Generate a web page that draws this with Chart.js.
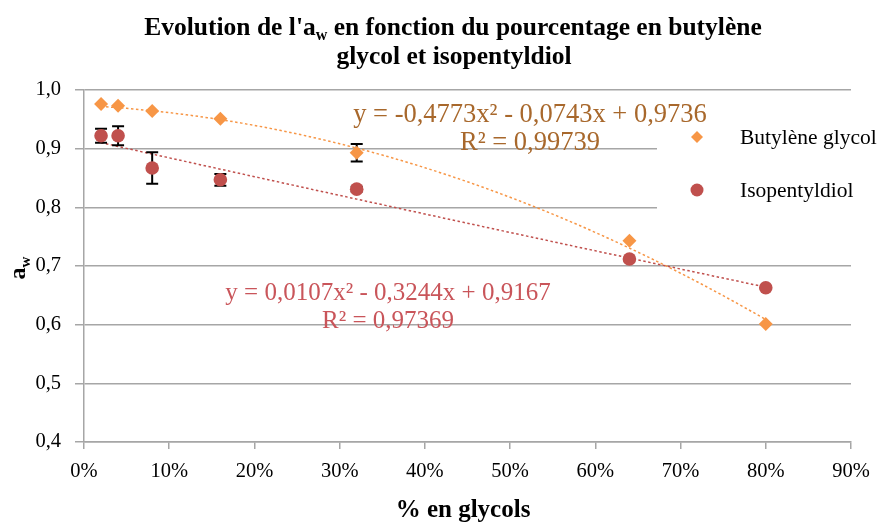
<!DOCTYPE html>
<html>
<head>
<meta charset="utf-8">
<script src="https://cdn.jsdelivr.net/npm/chart.js@4"></script>
<style>
  html, body { margin: 0; padding: 0; background: #fff; }
  #wrap { width: 880px; height: 525px; }
</style>
</head>
<body>
<div id="wrap"><canvas id="awChart" width="880" height="525"></canvas></div>
<script>
(function () {
  'use strict';

  const pctGlycol = [2, 4, 8, 16, 32, 64, 80];
  const awButylene = [0.976, 0.973, 0.964, 0.951, 0.893, 0.743, 0.601];
  const awIsopentyl = [0.922, 0.922, 0.867, 0.847, 0.831, 0.712, 0.663];
  const errButylene = [0, 0, 0, 0, 0.015, 0, 0];
  const errIsopentyl = [0.012, 0.016, 0.027, 0.010, 0.004, 0, 0];

  // trendline coefficients shown on the chart (x as a fraction): a x^2 + b x + c
  const trendButylene = [-0.4773, -0.0743, 0.9736];
  const trendIsopentyl = [0.0107, -0.3244, 0.9167];

  const seriesNames = ['Butylène glycol', 'Isopentyldiol'];
  const eqButylene = ['y = -0,4773x² - 0,0743x + 0,9736', 'R² = 0,99739'];
  const eqIsopentyl = ['y = 0,0107x² - 0,3244x + 0,9167', 'R² = 0,97369'];

  const ORANGE = '#f79646';
  const RED = '#c0504d';
  const SERIF = '"Liberation Serif", "DejaVu Serif", serif';

  function toPoints(xs, ys) {
    return xs.map((x, i) => ({ x: x, y: ys[i] }));
  }

  // draws base + subscript + rest, centred on cx
  function subText(ctx, parts, cx, y, size, subSize, subDrop) {
    ctx.font = 'bold ' + size + 'px ' + SERIF;
    const w1 = ctx.measureText(parts[0]).width;
    const w3 = ctx.measureText(parts[2]).width;
    ctx.font = 'bold ' + subSize + 'px ' + SERIF;
    const w2 = ctx.measureText(parts[1]).width;
    const x0 = cx - (w1 + w2 + w3) / 2;
    ctx.textAlign = 'left';
    ctx.font = 'bold ' + size + 'px ' + SERIF;
    ctx.fillText(parts[0], x0, y);
    ctx.fillText(parts[2], x0 + w1 + w2, y);
    ctx.font = 'bold ' + subSize + 'px ' + SERIF;
    ctx.fillText(parts[1], x0 + w1, y + subDrop);
  }

  const trendPlugin = {
    id: 'trendlines',
    beforeDatasetsDraw(chart) {
      const { ctx, scales: { x, y } } = chart;
      const lines = [
        { c: trendButylene, color: ORANGE },
        { c: trendIsopentyl, color: RED }
      ];
      ctx.save();

      // legend area hides the grid lines behind it
      ctx.fillStyle = '#fff';
      ctx.fillRect(657, 115, 223, 122);

      lines.forEach(l => {
        ctx.beginPath();
        ctx.strokeStyle = l.color;
        ctx.lineWidth = 1.5;
        ctx.setLineDash([2.5, 2.5]);
        const x0 = pctGlycol[0], x1 = pctGlycol[pctGlycol.length - 1];
        for (let p = x0; p <= x1 + 0.001; p += 0.5) {
          const f = p / 100;
          const v = l.c[0] * f * f + l.c[1] * f + l.c[2];
          const px = x.getPixelForValue(p), py = y.getPixelForValue(v);
          if (p === x0) ctx.moveTo(px, py); else ctx.lineTo(px, py);
        }
        ctx.stroke();
      });
      ctx.setLineDash([]);

      // error bars
      ctx.strokeStyle = '#000';
      ctx.lineWidth = 2;
      [[awButylene, errButylene], [awIsopentyl, errIsopentyl]].forEach(([vals, errs]) => {
        vals.forEach((v, i) => {
          if (!errs[i]) return;
          const px = x.getPixelForValue(pctGlycol[i]);
          const top = y.getPixelForValue(v + errs[i]);
          const bot = y.getPixelForValue(v - errs[i]);
          ctx.beginPath();
          ctx.moveTo(px, top); ctx.lineTo(px, bot);
          ctx.moveTo(px - 6, top); ctx.lineTo(px + 6, top);
          ctx.moveTo(px - 6, bot); ctx.lineTo(px + 6, bot);
          ctx.stroke();
        });
      });
      ctx.restore();
    },
    afterDatasetsDraw(chart) {
      const { ctx } = chart;
      ctx.save();
      ctx.textBaseline = 'middle';

      // legend
      ctx.font = '21.5px ' + SERIF;
      ctx.textAlign = 'left';
      ctx.fillStyle = '#000';
      ctx.fillText(seriesNames[0], 740, 138);
      ctx.fillText(seriesNames[1], 740, 191);
      ctx.fillStyle = ORANGE;
      ctx.beginPath();
      ctx.moveTo(697, 131); ctx.lineTo(703, 137); ctx.lineTo(697, 143); ctx.lineTo(691, 137);
      ctx.closePath(); ctx.fill();
      ctx.fillStyle = RED;
      ctx.beginPath();
      ctx.arc(697, 190, 6.5, 0, Math.PI * 2);
      ctx.fill();

      // equations
      ctx.textAlign = 'center';
      ctx.font = '26.5px ' + SERIF;
      ctx.fillStyle = '#a8682c';
      ctx.fillText(eqButylene[0], 530, 115);
      ctx.fillText(eqButylene[1], 530, 143);
      ctx.font = '25px ' + SERIF;
      ctx.fillStyle = '#c9555a';
      ctx.fillText(eqIsopentyl[0], 388, 293);
      ctx.fillText(eqIsopentyl[1], 388, 321);

      // title
      ctx.fillStyle = '#000';
      subText(ctx, ["Evolution de l'a", 'w', ' en fonction du pourcentage en butylène'], 453, 28, 25.5, 16, 8);
      ctx.textAlign = 'center';
      ctx.font = 'bold 25.5px ' + SERIF;
      ctx.fillText('glycol et isopentyldiol', 454, 57);

      // axis titles
      ctx.font = 'bold 25px ' + SERIF;
      ctx.fillText('% en glycols', 463, 511);

      ctx.translate(20, 268);
      ctx.rotate(-Math.PI / 2);
      subText(ctx, ['a', 'w', ''], 0, -1, 24, 15, 7);
      ctx.restore();
    }
  };

  const gridColor = '#a6a6a6';

  new Chart(document.getElementById('awChart').getContext('2d'), {
    type: 'scatter',
    data: {
      datasets: [{
        label: seriesNames[0],
        data: toPoints(pctGlycol, awButylene),
        pointStyle: 'rectRot',
        pointRadius: 7,
        backgroundColor: ORANGE,
        borderColor: ORANGE,
        borderWidth: 0
      }, {
        label: seriesNames[1],
        data: toPoints(pctGlycol, awIsopentyl),
        pointStyle: 'circle',
        pointRadius: 6.8,
        backgroundColor: RED,
        borderColor: RED,
        borderWidth: 0
      }]
    },
    options: {
      responsive: false,
      animation: false,
      layout: { padding: { top: 90, right: 29, left: 0, bottom: 0 } },
      plugins: {
        legend: { display: false },
        title: { display: false },
        tooltip: { enabled: false }
      },
      scales: {
        x: {
          type: 'linear',
          min: 0,
          max: 90,
          afterFit: s => { s.height = 83; },
          border: { display: true, color: gridColor, width: 1.5 },
          grid: { drawOnChartArea: false, drawTicks: true, tickLength: 7, color: gridColor, lineWidth: 1.5 },
          ticks: {
            stepSize: 10,
            padding: 10,
            color: '#000',
            font: { family: SERIF, size: 20.5 },
            callback: v => v + '%'
          }
        },
        y: {
          min: 0.4,
          max: 1.0,
          afterFit: s => { s.width = 84; },
          border: { display: true, color: gridColor, width: 1.5 },
          grid: { color: gridColor, lineWidth: 1.5, tickLength: 9 },
          ticks: {
            stepSize: 0.1,
            padding: 14,
            color: '#000',
            font: { family: SERIF, size: 20.5 },
            callback: v => v.toFixed(1).replace('.', ',')
          }
        }
      }
    },
    plugins: [trendPlugin]
  });
})();
</script>
</body>
</html>
